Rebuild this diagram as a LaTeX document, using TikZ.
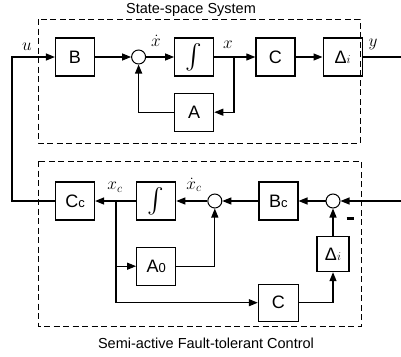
\documentclass[tikz,border=0pt]{standalone}
\usepackage{amsmath}
\usepackage{fontspec}
\setmainfont{Liberation Sans}
\usetikzlibrary{positioning, arrows.meta}
\newcommand{\lowsub}[1]{{\fontsize{13}{13}\selectfont #1}}
\newcommand{\integ}{{\fontsize{24}{24}\selectfont$\int$}}

\begin{document}
\begin{tikzpicture}[
        x=1pt, y=-1pt,
        box/.style={draw, rectangle, minimum width=39pt, minimum height=38pt, inner sep=0pt, line width=1.2pt, font=\fontsize{18}{20}\selectfont},
        sum/.style={draw, circle, minimum size=14pt, inner sep=0pt, line width=1pt},
        arr/.style={-{Triangle[length=9pt, width=7pt]}, line width=1.2pt},
        frame/.style={draw, dash pattern=on 6pt off 3.5pt, line width=0.8pt},
        lbl/.style={font=\fontsize{18}{20}\selectfont, inner sep=0pt},
        title/.style={font=\fontsize{14.5}{16}\selectfont, inner sep=0pt}
    ]
    \useasboundingbox (0,0) rectangle (401,356);

    % frames
    \draw[frame] (38,19) rectangle (360,143);
    \draw[frame] (38,161) rectangle (361,326);
    \node[title] (tsys) at (191,10) {State-space System};
    \node[title] (tctl) at (206,343) {Semi-active Fault-tolerant Control};

    % plant
    \node[box] (B) at (75,57) {B};
    \node[sum] (sum1) [right=36pt of B] {};
    \node[box] (int1) [right=28pt of sum1] {\integ};
    \node[box] (C1) [right=41pt of int1] {C};
    \node[box] (D1) [right=27pt of C1] {Δ\lowsub{$i$}};
    \node[box] (A) [below=16pt of int1] {A};
    \coordinate (br1) at (234,57);
    \coordinate (uleft) at (12,57);
    \coordinate (yout) at (401,57);

    % controller
    \node[box] (Cc) at (75,201) {C\lowsub{c}};
    \node[box] (int2) [right=41pt of Cc] {\integ};
    \node[sum] (sum2) [right=31pt of int2] {};
    \node[box] (Bc) [right=36pt of sum2] {B\lowsub{c}};
    \node[sum] (sum3) [right=27pt of Bc] {};
    \node[box, minimum width=32pt, minimum height=35pt] (D2) [below=27.5pt of sum3] {Δ\lowsub{$i$}};
    \node[box] (A0) [below=26pt of int2] {A\lowsub{0}};
    \node[box, minimum width=40pt, minimum height=37pt] (C2) [below=63pt of Bc] {C};
    \coordinate (br2) at (116,201);
    \coordinate (yin) at (401,201);

    % labels
    \node[lbl] (ulab) at (27,47) {$u$};
    \node[lbl] (xdlab) at (156,41) {$\dot{x}$};
    \node[lbl] (xlab) at (228,45) {$x$};
    \node[lbl] (ylab) at (373,44) {$y$};
    \node[lbl] (xclab) at (115,187) {$x_c$};
    \node[lbl] (xcdlab) at (194,185) {$\dot{x}_c$};
    \node[inner sep=0pt] (minus) at (350,218) {\rule{7pt}{3pt}};

    \draw[arr] (Cc.west) -| (uleft) -- (B);
    \draw[arr] (B) -- (sum1);
    \draw[arr] (sum1) -- (int1);
    \draw[arr] (int1) -- (C1);
    \draw[arr] (C1) -- (D1);
    \draw[line width=1.2pt] (D1) -- (yout);
    \draw[arr] (br1) |- (A);
    \draw[arr] (A) -| (sum1);

    \draw[arr] (yin) -- (sum3);
    \draw[arr] (sum3) -- (Bc);
    \draw[arr] (Bc) -- (sum2);
    \draw[arr] (sum2) -- (int2);
    \draw[arr] (int2) -- (Cc);
    \draw[arr] (br2) |- (C2);
    \draw[arr] (br2 |- A0) -- (A0);
    \draw[arr] (A0) -| (sum2);
    \draw[arr] (C2) -| (D2);
    \draw[arr] (D2) -- (sum3);

    \end{tikzpicture}
\end{document}
